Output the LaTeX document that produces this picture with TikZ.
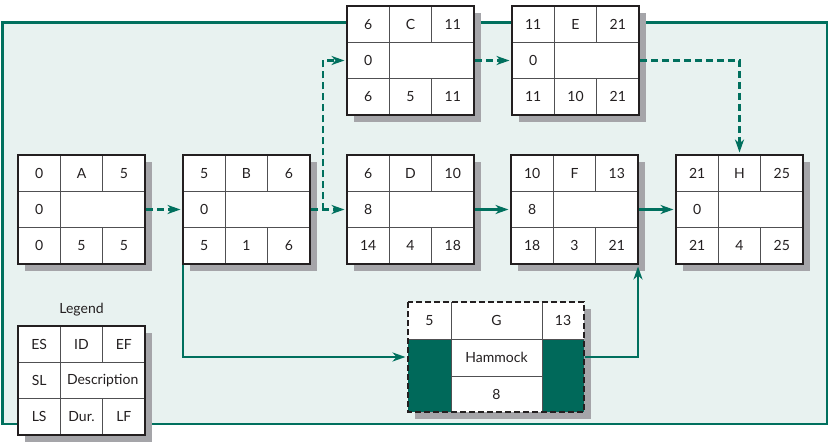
\documentclass[tikz,border=0pt]{standalone}
\usepackage{fontspec}
\setmainfont{Lato}
\usetikzlibrary{arrows.meta,calc,shadows}
\definecolor{teal1}{HTML}{00705E}
\definecolor{tealfill}{HTML}{00695A}
\definecolor{bgfill}{HTML}{E8F2F0}
\definecolor{shgray}{HTML}{A5A5A9}
\definecolor{ink}{HTML}{231F20}
\definecolor{gridc}{HTML}{505052}
\tikzset{
  boxframe/.style={draw=ink, line width=2.6pt, fill=white, minimum width=127pt,
    minimum height=109pt, inner sep=0pt, outer sep=0pt, anchor=north west,
    drop shadow={shadow xshift=7pt, shadow yshift=-7pt, fill=shgray, opacity=1}},
  gridline/.style={draw=gridc, line width=1pt},
  cell/.style={font=\fontsize{14}{16}\selectfont, text=ink, inner sep=0pt},
  link/.style={draw=teal1, line width=2.3pt, shorten >=2.5pt, shorten <=1pt,
    -{Stealth[length=13pt,width=9pt,inset=4pt]}},
  dlink/.style={link, dash pattern=on 7pt off 4pt},
}
% #1 name, #2 top-left, #3 top row list, #4 SL, #5 description, #6 bottom row list
\newcommand{\abox}[6]{%
  \node[boxframe] (#1) at (#2) {};
  \draw[gridline] ($(#1.north west)+(0,36.33)$) -- ($(#1.north east)+(0,36.33)$);
  \draw[gridline] ($(#1.north west)+(0,72.67)$) -- ($(#1.north east)+(0,72.67)$);
  \draw[gridline] ($(#1.north west)+(42.33,0)$) -- ($(#1.south west)+(42.33,0)$);
  \draw[gridline] ($(#1.north west)+(84.67,0)$) -- ($(#1.north west)+(84.67,36.33)$);
  \draw[gridline] ($(#1.north west)+(84.67,72.67)$) -- ($(#1.south west)+(84.67,0)$);
  \draw[ink, line width=2.6pt] (#1.north west) rectangle (#1.south east);
  \foreach \t [count=\i] in {#3}
    \node[cell] (#1-t\i) at ($(#1.north west)+(21.17+42.33*\i-42.33,18.17)$) {\t};
  \node[cell] (#1-s) at ($(#1.north west)+(21.17,54.5)$) {#4};
  \node[cell] (#1-d) at ($(#1.north west)+(84.67,54.5)$) {#5};
  \foreach \t [count=\i] in {#6}
    \node[cell] (#1-b\i) at ($(#1.north west)+(21.17+42.33*\i-42.33,90.83)$) {\t};
}
\begin{document}
\begin{tikzpicture}[x=1pt,y=-1pt]
\useasboundingbox (0,0) rectangle (829,446);
\draw[teal1, line width=2.3pt, fill=bgfill] (2.5,22.5) rectangle (827,424);

\abox{A}{18,155}{0,A,5}{0}{}{0,5,5}
\abox{B}{183,155}{5,B,6}{0}{}{5,1,6}
\abox{C}{347,6}{6,C,11}{0}{}{6,5,11}
\abox{D}{347,155}{6,D,10}{8}{}{14,4,18}
\abox{E}{512,6}{11,E,21}{0}{}{11,10,21}
\abox{F}{511,155}{10,F,13}{8}{}{18,3,21}
\abox{H}{676,155}{21,H,25}{0}{}{21,4,25}

\node[cell] (legtitle) at (81.5,310) {Legend};
\abox{L}{18,326}{ES,ID,EF}{SL}{Description}{LS,Dur.,LF}

% Hammock G
\node[boxframe, draw=none, minimum width=176pt, minimum height=110pt] (G) at (408,302) {};
\fill[tealfill] ($(G.north west)+(0,37)$) rectangle ($(G.south west)+(43,0)$);
\fill[tealfill] ($(G.north east)+(-42,37)$) rectangle (G.south east);
\draw[gridline] ($(G.north west)+(0,37)$) -- ($(G.north east)+(0,37)$);
\draw[gridline] ($(G.north west)+(43,74)$) -- ($(G.north east)+(-42,74)$);
\draw[gridline] ($(G.north west)+(43,0)$) -- ($(G.south west)+(43,0)$);
\draw[gridline] ($(G.north east)+(-42,0)$) -- ($(G.south east)+(-42,0)$);
\draw[ink, line width=2.3pt, dash pattern=on 6pt off 3pt] (G.north west) rectangle (G.south east);
\node[cell] (G-t1) at ($(G.north west)+(21.5,18.5)$) {5};
\node[cell] (G-t2) at ($(G.north west)+(88.5,18.5)$) {G};
\node[cell] (G-t3) at ($(G.north east)+(-21,18.5)$) {13};
\node[cell] (G-d) at ($(G.north west)+(88.5,55.5)$) {Hammock};
\node[cell] (G-b) at ($(G.north west)+(88.5,92)$) {8};

% connectors
\draw[dlink] (A.east) -- (B.west);
\draw[dlink] (B.east) -- (D.west);
\draw[dlink] (B.east) -- ++(13,0) |- (C.west);
\draw[dlink] (C.east) -- (E.west);
\draw[dlink] (E.east) -| (H.north);
\draw[link] (D.east) -- (F.west);
\draw[link] (F.east) -- (H.west);
\draw[link] (B.south west) |- (G.west);
\draw[link] (G.east) -| (F.south east);
\end{tikzpicture}
\end{document}
